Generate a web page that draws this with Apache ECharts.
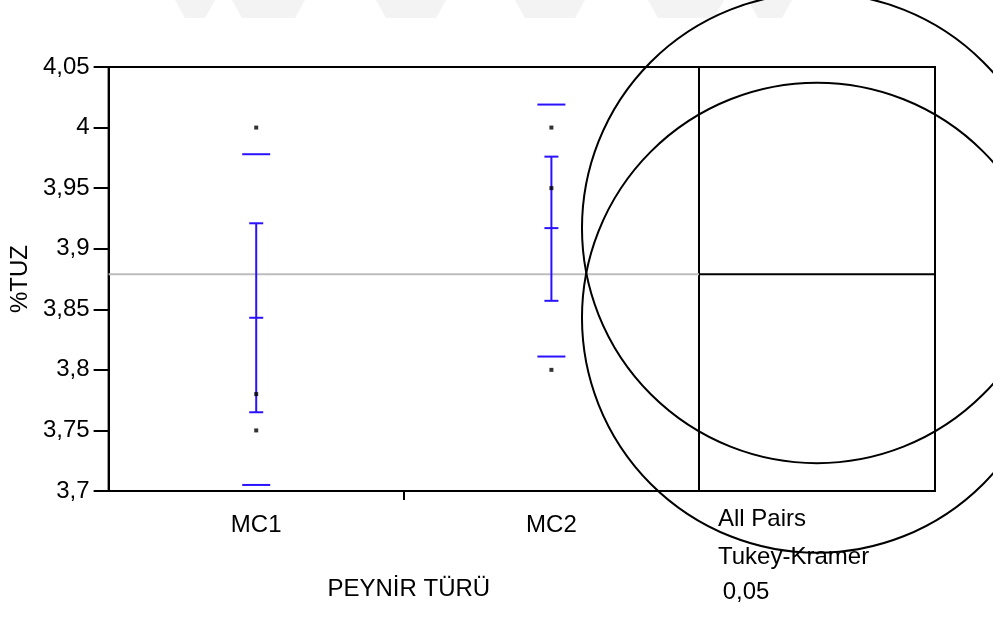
<!DOCTYPE html>
<html>
<head>
<meta charset="utf-8">
<script src="https://cdn.jsdelivr.net/npm/echarts@6/dist/echarts.min.js"></script>
<style>
  html, body { margin: 0; padding: 0; background: #fff; }
  #chart { width: 993px; height: 617px; }
</style>
</head>
<body>
<div id="chart"></div>
<script>
// Oneway analysis of %TUZ by PEYNİR TÜRÜ
const categories = ['MC1', 'MC2'];
const observations = [
  [4.00, 3.78, 3.75],
  [4.00, 3.95, 3.80]
];
const groupMeans = [3.843, 3.917];
const seLower = [3.765, 3.857];
const seUpper = [3.921, 3.976];
const sdLower = [3.705, 3.811];
const sdUpper = [3.978, 4.019];
const grandMean = 3.879;
const circleRadius = 0.194;   // Tukey-Kramer comparison circle radius, in %TUZ units
const yMin = 3.70;
const yMax = 4.05;
const yStep = 0.05;
const panelTitle = ['All Pairs', 'Tukey-Kramer', ' 0,05'];

const FONT = 'Liberation Sans, Arial, sans-serif';
const FS = 24;
const BLUE = '#2a12ff';
const fmtComma = v => String(+(+v).toFixed(2)).replace('.', ',');

const pointData = [];
observations.forEach((vals, i) => vals.forEach(v => pointData.push([i, v])));

const barData = categories.map((c, i) =>
  [i, groupMeans[i], seLower[i], seUpper[i], sdLower[i], sdUpper[i]]);

const chart = echarts.init(document.getElementById('chart'), null, { renderer: 'canvas' });

chart.setOption({
  animation: false,
  backgroundColor: '#fff',
  textStyle: { fontFamily: FONT },
  grid: [
    { left: 108, top: 67, width: 591, height: 424, show: true,
      borderColor: '#000', borderWidth: 2, backgroundColor: 'transparent' },
    { left: 699, top: 67, width: 236, height: 424, show: true,
      borderColor: '#000', borderWidth: 2, backgroundColor: 'transparent' }
  ],
  xAxis: [
    { type: 'category', gridIndex: 0, data: categories, boundaryGap: true,
      name: 'PEYNİR TÜRÜ', nameLocation: 'middle', nameGap: 86,
      nameTextStyle: { fontSize: FS, color: '#000', fontFamily: FONT, padding: [0, 0, 0, 10] },
      axisLine: { lineStyle: { color: '#000', width: 2 } },
      axisTick: { show: false },
      axisLabel: { fontSize: FS, color: '#000', margin: 22, fontFamily: FONT },
      splitLine: { show: false } },
    { type: 'value', gridIndex: 0, min: 0, max: categories.length, position: 'bottom',
      axisLine: { show: false },
      axisTick: { show: true, length: 9, inside: false,
        customValues: categories.slice(1).map((c, i) => i + 1),
        lineStyle: { color: '#000', width: 2 } },
      axisLabel: { show: false }, splitLine: { show: false } },
    { type: 'value', gridIndex: 1, min: 0, max: 1, show: false }
  ],
  yAxis: [
    { type: 'value', gridIndex: 0, min: yMin, max: yMax, interval: yStep,
      name: '%TUZ', nameLocation: 'middle', nameGap: 76, nameRotate: 90,
      nameTextStyle: { fontSize: FS, color: '#000', fontFamily: FONT },
      axisLine: { show: true, lineStyle: { color: '#000', width: 2 } },
      axisTick: { show: true, length: 15, lineStyle: { color: '#000', width: 2 } },
      axisLabel: { fontSize: FS, color: '#000', margin: 19, formatter: fmtComma, fontFamily: FONT },
      splitLine: { show: false } },
    { type: 'value', gridIndex: 1, min: yMin, max: yMax, interval: yStep, show: false }
  ],
  graphic: [
    // faint watermark bars across the top edge
    ...[[175, 215], [232, 305], [376, 446], [515, 585], [648, 724], [748, 792]].map(([a, b]) => ({
      type: 'polygon', silent: true, z: -1,
      shape: { points: [[a, 0], [b, 0], [b - 10, 18], [a + 10, 18]] },
      style: { fill: '#f3f3f3' }
    })),
    { type: 'text', left: 718, top: 507, silent: true,
      style: { text: panelTitle[0], font: FS + 'px ' + FONT, fill: '#000' } },
    { type: 'text', left: 718, top: 545, silent: true,
      style: { text: panelTitle[1], font: FS + 'px ' + FONT, fill: '#000' } },
    { type: 'text', left: 716, top: 580, silent: true,
      style: { text: panelTitle[2], font: FS + 'px ' + FONT, fill: '#000' } }
  ],
  series: [
    // grand mean reference across the main plot
    { type: 'custom', xAxisIndex: 0, yAxisIndex: 0, data: [[0, grandMean]], z: 1, silent: true,
      renderItem(params, api) {
        const cs = params.coordSys;
        const y = api.coord([0, api.value(1)])[1];
        return { type: 'line', shape: { x1: cs.x, y1: y, x2: cs.x + cs.width, y2: y },
          style: { stroke: '#bdbdbd', lineWidth: 2 } };
      } },
    // standard deviation lines, standard error bars, mean ticks
    { type: 'custom', xAxisIndex: 0, yAxisIndex: 0, data: barData, z: 3, silent: true,
      renderItem(params, api) {
        const i = api.value(0);
        const x = api.coord([i, api.value(1)])[0];
        const ym = api.coord([i, api.value(1)])[1];
        const ylo = api.coord([i, api.value(2)])[1];
        const yhi = api.coord([i, api.value(3)])[1];
        const sdl = api.coord([i, api.value(4)])[1];
        const sdh = api.coord([i, api.value(5)])[1];
        const st = { stroke: BLUE, lineWidth: 2 };
        const seg = (x1, y1, x2, y2) => ({ type: 'line', shape: { x1, y1, x2, y2 }, style: st });
        return { type: 'group', children: [
          seg(x, ylo, x, yhi),
          seg(x - 7, ylo, x + 7, ylo),
          seg(x - 7, yhi, x + 7, yhi),
          seg(x - 7, ym, x + 7, ym),
          seg(x - 14, sdl, x + 14, sdl),
          seg(x - 14, sdh, x + 14, sdh)
        ] };
      } },
    // individual observations
    { type: 'scatter', xAxisIndex: 0, yAxisIndex: 0, data: pointData, z: 4, silent: true,
      symbol: 'rect', symbolSize: 4, itemStyle: { color: '#000' } },
    // grand mean line in the comparison panel
    { type: 'custom', xAxisIndex: 2, yAxisIndex: 1, data: [[0, grandMean]], z: 2, silent: true,
      renderItem(params, api) {
        const cs = params.coordSys;
        const y = api.coord([0, api.value(1)])[1];
        return { type: 'line', shape: { x1: cs.x, y1: y, x2: cs.x + cs.width, y2: y },
          style: { stroke: '#000', lineWidth: 2 } };
      } },
    // comparison circles, one per group mean
    { type: 'custom', xAxisIndex: 2, yAxisIndex: 1, clip: false, z: 5, silent: true,
      data: groupMeans.map(m => [0.5, m, circleRadius]),
      renderItem(params, api) {
        const c = api.coord([api.value(0), api.value(1)]);
        const r = api.size([0, api.value(2)])[1];
        return { type: 'circle', shape: { cx: c[0], cy: c[1], r },
          style: { fill: 'none', stroke: '#000', lineWidth: 2 } };
      } }
  ]
});
</script>
</body>
</html>
